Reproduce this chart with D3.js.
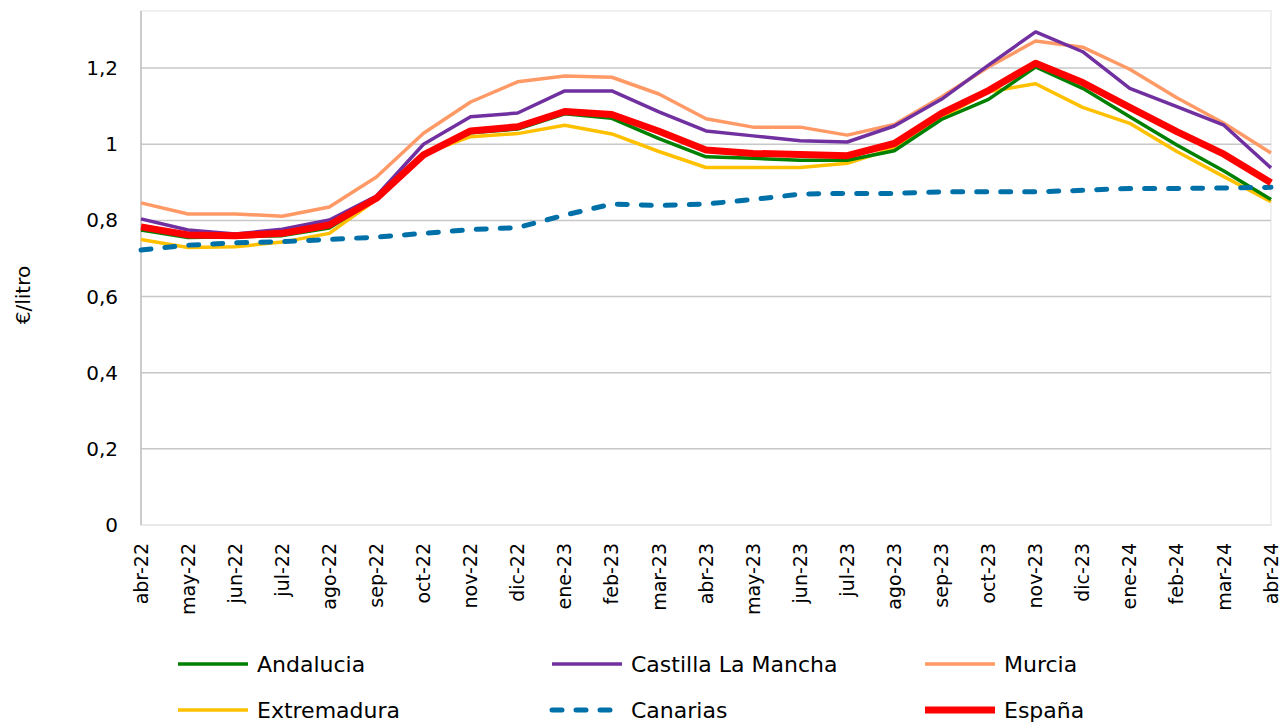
<!DOCTYPE html>
<html><head><meta charset="utf-8">
<script src="https://cdn.jsdelivr.net/npm/d3@7"></script>
<style>
body{margin:0;background:#fff;}
text{font-family:"DejaVu Sans",sans-serif;fill:#000;}
</style></head><body>
<svg id="c" width="1282" height="722"></svg>
<script>
const months = ["abr-22","may-22","jun-22","jul-22","ago-22","sep-22","oct-22","nov-22","dic-22","ene-23","feb-23","mar-23","abr-23","may-23","jun-23","jul-23","ago-23","sep-23","oct-23","nov-23","dic-23","ene-24","feb-24","mar-24","abr-24"];
const andalucia   = [0.775,0.755,0.757,0.760,0.780,0.858,0.975,1.030,1.040,1.080,1.068,1.015,0.967,0.963,0.958,0.958,0.983,1.065,1.118,1.203,1.147,1.072,0.998,0.930,0.855];
const castilla    = [0.804,0.775,0.764,0.777,0.801,0.864,1.000,1.072,1.082,1.140,1.140,1.085,1.035,1.022,1.009,1.006,1.048,1.118,1.208,1.295,1.243,1.147,1.099,1.050,0.938];
const murcia      = [0.846,0.817,0.817,0.811,0.835,0.914,1.029,1.111,1.164,1.179,1.176,1.132,1.067,1.045,1.045,1.024,1.052,1.124,1.203,1.271,1.255,1.197,1.122,1.055,0.977];
const extremadura = [0.750,0.729,0.731,0.743,0.766,0.855,0.975,1.020,1.028,1.050,1.027,0.981,0.939,0.939,0.939,0.950,0.990,1.070,1.138,1.159,1.097,1.055,0.981,0.915,0.849];
const canarias    = [0.722,0.735,0.741,0.744,0.750,0.756,0.766,0.776,0.781,0.814,0.843,0.839,0.843,0.855,0.869,0.871,0.871,0.875,0.875,0.875,0.879,0.884,0.884,0.885,0.887];
const espana      = [0.783,0.762,0.760,0.766,0.788,0.858,0.972,1.035,1.046,1.086,1.078,1.034,0.985,0.976,0.973,0.970,1.002,1.081,1.141,1.213,1.162,1.097,1.033,0.974,0.899];
const yTicks = [0,0.2,0.4,0.6,0.8,1,1.2];
const series = [
  {name:"Andalucia", values:andalucia, color:"#008000", w:3.5},
  {name:"Castilla La Mancha", values:castilla, color:"#7030A0", w:3.5},
  {name:"Murcia", values:murcia, color:"#FF9966", w:3.5},
  {name:"Extremadura", values:extremadura, color:"#FFC000", w:3.5},
  {name:"Canarias", values:canarias, color:"#0070A8", w:5, dash:"10,14"},
  {name:"España", values:espana, color:"#FF0000", w:7}
];
const drawOrder = [2,1,3,0,4,5];

const svg = d3.select("#c");
const L=141, R=1271, T=11, B=525;
const x = d3.scalePoint().domain(months).range([L,R]);
const y = d3.scaleLinear().domain([0,1.35]).range([B,T]);

// plot border
svg.append("rect").attr("x",L).attr("y",T).attr("width",R-L).attr("height",B-T)
  .attr("fill","none").attr("stroke","#f0f0f0").attr("stroke-width",2);

// gridlines
svg.append("g").selectAll("line").data(yTicks.filter(d=>d>0)).join("line")
  .attr("x1",L).attr("x2",R).attr("y1",d=>y(d)).attr("y2",d=>y(d))
  .attr("stroke","#c8c8c8").attr("stroke-width",1.5);
svg.append("line").attr("x1",L).attr("x2",R).attr("y1",B).attr("y2",B).attr("stroke","#e6e6e6").attr("stroke-width",1.5);
svg.append("line").attr("x1",L).attr("x2",L).attr("y1",T).attr("y2",B).attr("stroke","#c0c0c0").attr("stroke-width",1.5);

// y labels
const fmt = d=> String(d).replace(".",",");
svg.append("g").selectAll("text").data(yTicks).join("text")
  .attr("x",118).attr("y",d=>y(d)).attr("dy","0.35em").attr("text-anchor","end")
  .attr("font-size",20).text(fmt);

// x labels
svg.append("g").selectAll("text").data(months).join("text")
  .attr("transform",d=>`translate(${x(d)},543) rotate(-90)`)
  .attr("text-anchor","end").attr("dy","0.35em").attr("font-size",19).text(d=>d);

// y title
svg.append("text").attr("transform","translate(23,295) rotate(-90)")
  .attr("text-anchor","middle").attr("dy","0.35em").attr("font-size",20).text("€/litro");

// lines
const line = d3.line().x((d,i)=>x(months[i])).y(d=>y(d));
drawOrder.forEach(k=>{
  const s=series[k];
  svg.append("path").attr("d",line(s.values)).attr("fill","none")
    .attr("stroke",s.color).attr("stroke-width",s.w)
    .attr("stroke-linejoin","round")
    .attr("stroke-linecap", s.dash?"round":"butt")
    .attr("stroke-dasharray", s.dash||null);
});

// legend
const legX=[178,552,925], legY=[664,710];
series.forEach((s,i)=>{
  const lx=legX[i%3], ly=legY[Math.floor(i/3)];
  svg.append("line").attr("x1",lx).attr("x2",lx+70).attr("y1",ly).attr("y2",ly)
    .attr("stroke",s.color).attr("stroke-width",s.name==="España"?7:(s.dash?5:3.5))
    .attr("stroke-linecap",s.dash?"round":"butt")
    .attr("stroke-dasharray",s.dash?"10,14":null);
  svg.append("text").attr("x",lx+79).attr("y",ly).attr("dy","0.35em")
    .attr("font-size",22).text(s.name);
});
</script>
</body></html>
